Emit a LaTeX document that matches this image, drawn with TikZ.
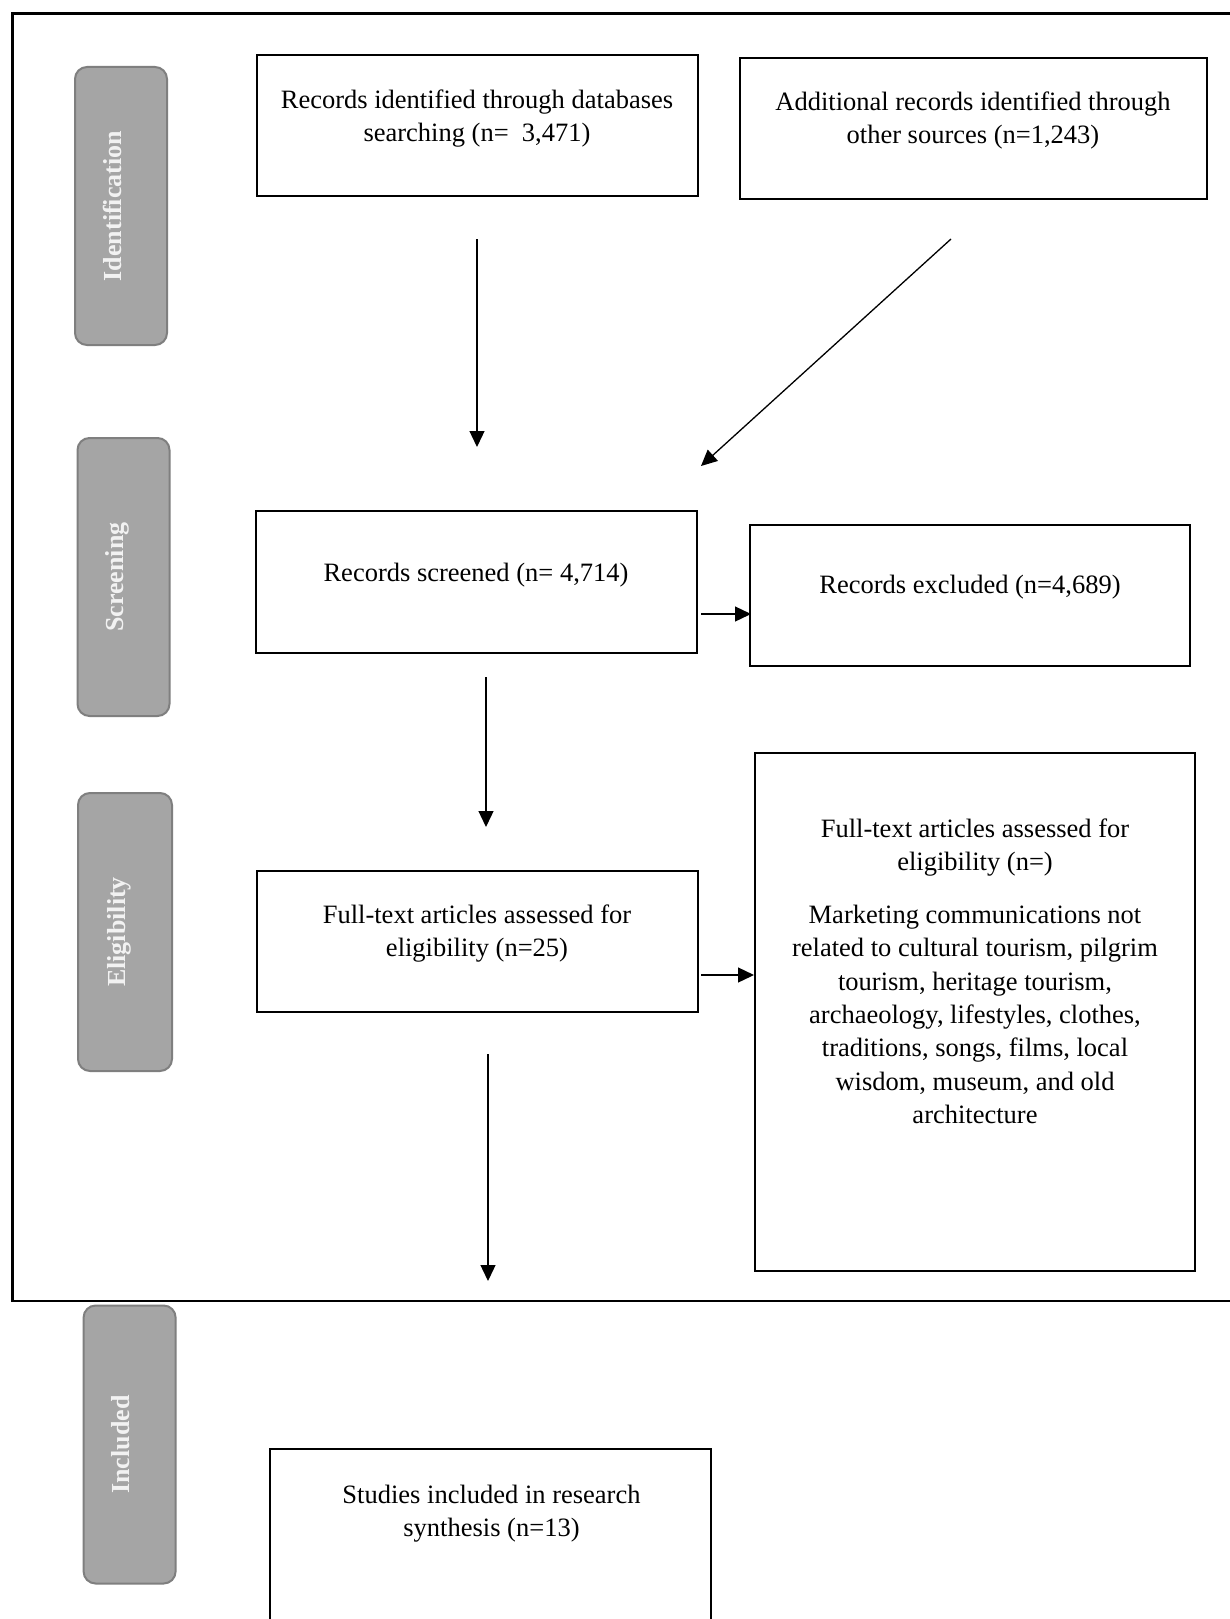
\documentclass[tikz,border=0pt]{standalone}
\usepackage{fontspec}
\setmainfont{Liberation Serif}
\usetikzlibrary{arrows.meta}
\definecolor{phasefill}{HTML}{A5A5A5}
\definecolor{phaseedge}{HTML}{7F7F7F}
\definecolor{phasetext}{HTML}{F2F2F2}
\begin{document}
\begin{tikzpicture}[x=1pt,y=-1pt,
  flowbox/.style={draw=black, line width=2.4pt, inner sep=0pt, outer sep=0pt},
  phasebox/.style={draw=phaseedge, fill=phasefill, line width=2pt, rounded corners=12pt,
    minimum width=92pt, minimum height=278pt, inner sep=0pt},
  phaselabel/.style={rotate=90, anchor=base, text=phasetext, inner sep=0pt,
    font=\fontsize{26}{30}\selectfont\bfseries},
  boxtext/.style={align=center, inner sep=0pt, font=\fontsize{26.5}{33.3}\selectfont},
  conn/.style={line width=1.3pt, -{Triangle[length=16pt,width=15pt]}},
  frameline/.style={line width=2.4pt, line cap=rect}
]
\useasboundingbox (0,0) rectangle (1230,1619);
\fill[white] (0,0) rectangle (1230,1619);

% outer frame
\draw[frameline] (1260,13.5) -- (12.5,13.5) -- (12.5,1301) -- (1260,1301);

% phase boxes
\node[phasebox] (p1) at (121,206) {};
\node[phaselabel] (p1t) at (p1.center) {Identification};
\node[phasebox] (p2) at (123.5,577) {};
\node[phaselabel] (p2t) at (p2.center) {Screening};
\node[phasebox, minimum width=94pt] (p3) at (125,932) {};
\node[phaselabel] (p3t) at (p3.center) {Eligibility};
\node[phasebox] (p4) at (129.6,1444.5) {};
\node[phaselabel] (p4t) at (p4.center) {Included};

% flow boxes
\node[flowbox, minimum width=441pt, minimum height=141pt] (b1) at (477.5,125.5) {};
\node[boxtext] (t1) at (477,118.5) {Records identified through databases\\searching (n=\ \ 3,471)};

\node[flowbox, minimum width=467pt, minimum height=141pt] (b2) at (973.5,128.5) {};
\node[boxtext] (t2) at (973,120.5) {Additional records identified through\\other sources (n=1,243)};

\node[flowbox, minimum width=441pt, minimum height=142pt] (b3) at (476.5,582) {};
\node[boxtext] (t3) at (476,575) {Records screened (n= 4,714)};

\node[flowbox, minimum width=440pt, minimum height=141pt] (b4) at (970,595.5) {};
\node[boxtext] (t4) at (970,587.5) {Records excluded (n=4,689)};

\node[flowbox, minimum width=441pt, minimum height=141pt] (b5) at (477.5,941.5) {};
\node[boxtext] (t5) at (477,933.5) {Full-text articles assessed for\\eligibility (n=25)};

\node[flowbox, minimum width=440pt, minimum height=518pt] (b6) at (975,1012) {};
\node[boxtext] (t6) at (975,971) {Full-text articles assessed for\\eligibility (n=)\\[20pt]Marketing communications not\\related to cultural tourism, pilgrim\\tourism, heritage tourism,\\archaeology, lifestyles, clothes,\\traditions, songs, films, local\\wisdom, museum, and old\\architecture};

\node[flowbox, minimum width=441pt, minimum height=251pt] (b7) at (490.5,1574.5) {};
\node[boxtext] (t7) at (491.5,1513.5) {Studies included in research\\synthesis (n=13)};

% connector end points
\coordinate (a1s) at (477,239);  \coordinate (a1e) at (477,447);
\coordinate (a2s) at (951,239);  \coordinate (a2e) at (701,466);
\coordinate (a3s) at (701,614);  \coordinate (a3e) at (751,614);
\coordinate (a4s) at (486,677);  \coordinate (a4e) at (486,827);
\coordinate (a5s) at (701,975);  \coordinate (a5e) at (754,975);
\coordinate (a6s) at (488,1054); \coordinate (a6e) at (488,1281);

\draw[conn] (a1s) -- (a1e);
\draw[conn] (a2s) -- (a2e);
\draw[conn] (a3s) -- (a3e);
\draw[conn] (a4s) -- (a4e);
\draw[conn] (a5s) -- (a5e);
\draw[conn] (a6s) -- (a6e);
\end{tikzpicture}
\end{document}
